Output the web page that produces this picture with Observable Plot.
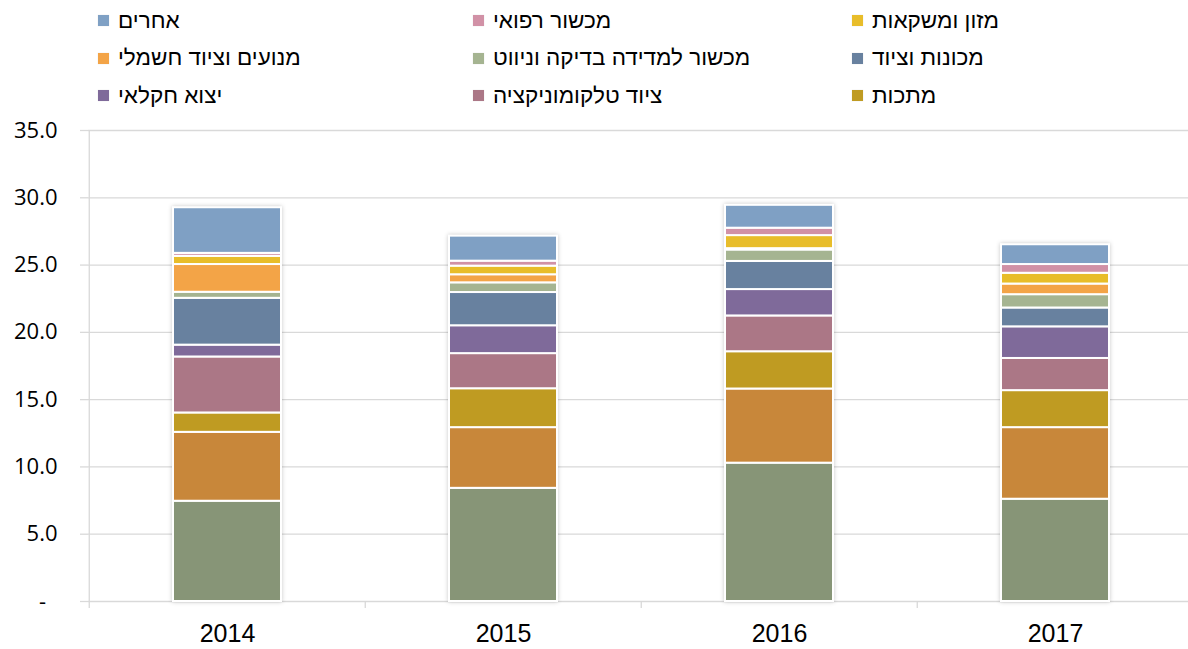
<!DOCTYPE html>
<html><head><meta charset="utf-8">
<script src="https://cdn.jsdelivr.net/npm/d3@7"></script>
<script src="https://cdn.jsdelivr.net/npm/@observablehq/plot@0.6"></script>
<style>
body{margin:0;background:#fff;font-family:"Liberation Sans",Arial,sans-serif;}
#legend{display:grid;grid-template-columns:375px 379px 320px;grid-auto-rows:37.5px;padding-left:98px;padding-top:2px;height:113px;box-sizing:content-box;}
.item{display:flex;align-items:center;font-size:22.5px;color:#000;white-space:nowrap;}
.sw{width:11px;height:11px;margin-right:9px;flex:none;box-shadow:0 0 1px rgba(0,0,0,0.15);}
#chart svg{display:block;}
</style></head><body>
<div id="legend"></div><div id="chart"></div>
<script>
const years = ["2014", "2015", "2016", "2017"];
const yTicks = [0, 5, 10, 15, 20, 25, 30, 35];

// Series, bottom of the stack to top (the first two have no legend entry in the picture)
const seriesNames = [
  "סדרה 1", "סדרה 2", "מתכות", "ציוד טלקומוניקציה", "יצוא חקלאי",
  "מכונות וציוד", "מכשור למדידה בדיקה וניווט", "מנועים וציוד חשמלי",
  "מזון ומשקאות", "מכשור רפואי", "אחרים"
];
const seriesColors = [
  "#879577", "#c8873a", "#bf9b22", "#ab7786", "#7f6a9a",
  "#68819f", "#a5b491", "#f3a447", "#e8bd2a", "#d191a6", "#7fa0c4"
];
const series1    = [7.45, 8.41, 10.28, 7.60];
const series2    = [5.12, 4.51, 5.51, 5.32];
const metals     = [1.44, 2.89, 2.77, 2.75];
const telecom    = [4.16, 2.61, 2.66, 2.39];
const agri       = [0.88, 2.07, 1.96, 2.35];
const machinery  = [3.48, 2.47, 2.09, 1.40];
const measuring  = [0.45, 0.72, 0.85, 0.99];
const engines    = [2.06, 0.60, 0.10, 0.79];
const food       = [0.61, 0.64, 0.97, 0.80];
const medical    = [0.22, 0.37, 0.55, 0.65];
const other      = [3.39, 1.86, 1.70, 1.47];
const seriesValues = [series1, series2, metals, telecom, agri, machinery, measuring, engines, food, medical, other];

// Legend grid as shown (left to right, top to bottom)
const legendRows = [
  ["אחרים", "מכשור רפואי", "מזון ומשקאות"],
  ["מנועים וציוד חשמלי", "מכשור למדידה בדיקה וניווט", "מכונות וציוד"],
  ["יצוא חקלאי", "ציוד טלקומוניקציה", "מתכות"]
];

const data = [];
seriesNames.forEach((s, i) => years.forEach((yr, j) => data.push({series: s, year: yr, value: seriesValues[i][j]})));

const legend = document.getElementById("legend");
legendRows.flat().forEach(name => {
  const item = document.createElement("div");
  item.className = "item";
  const sw = document.createElement("span");
  sw.className = "sw";
  sw.style.background = seriesColors[seriesNames.indexOf(name)];
  const t = document.createElement("span");
  t.dir = "rtl";
  t.textContent = name;
  item.append(sw, t);
  legend.append(item);
});

const xRange = [88, 1194];
const bandStep = (xRange[1] - xRange[0]) / years.length;

const chart = Plot.plot({
  width: 1188,
  height: 534,
  marginTop: 15,
  marginBottom: 48,
  marginLeft: 88,
  marginRight: 0,
  style: {background: "#fff", overflow: "visible"},
  x: {domain: years, range: xRange, paddingInner: 0.61, paddingOuter: 0.305, axis: null, label: null},
  y: {domain: [0, 35], axis: null, label: null},
  color: {domain: seriesNames, range: seriesColors},
  marks: [
    Plot.gridY({ticks: yTicks, stroke: "#d9d9d9", strokeOpacity: 1, strokeWidth: 1.3}),
    Plot.ruleX(years, {x: d => d, dx: -bandStep / 2, y1: 0, y2: 0, insetBottom: -7, stroke: "#d9d9d9", strokeWidth: 1.3}),
    Plot.ruleX(years.slice(0, 1), {x: d => d, dx: -bandStep / 2, y1: 0, y2: 35, stroke: "#d9d9d9", strokeWidth: 1.3}),
    Plot.barY(data, {x: "year", y: "value", fill: "series", stroke: "#fff", strokeWidth: 2}),
    Plot.axisY({ticks: yTicks, label: null, tickFormat: d => d === 0 ? "-\u00a0\u00a0" : d.toFixed(1), tickSize: 8, tickPadding: 23,
      stroke: "#d9d9d9", strokeWidth: 1.3, fill: "#000", fontSize: 22, fontFamily: "Open Sans"}),
    Plot.axisX({label: null, tickSize: 0, tickPadding: 23, fill: "#000", fontSize: 25, fontFamily: "Liberation Sans"})
  ]
});
d3.select(chart).select('g[aria-label="bar"]').style("filter", "drop-shadow(0px 0px 2px rgba(0,0,0,0.22))");
document.getElementById("chart").append(chart);
</script>
</body></html>
